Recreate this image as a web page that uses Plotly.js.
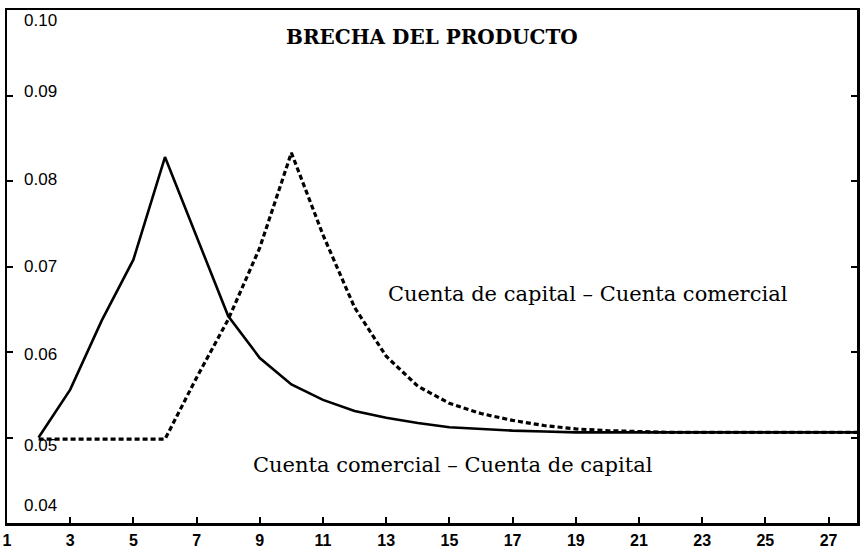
<!DOCTYPE html>
<html>
<head>
<meta charset="utf-8">
<script src="https://cdn.plot.ly/plotly-3.0.1.min.js"></script>
<style>html,body{margin:0;padding:0;background:#fff;}#chart{width:863px;height:550px;}</style>
</head>
<body>
<div id="chart"></div>
<script>
// Periods
const periods = [2,3,4,5,6,7,8,9,10,11,12,13,14,15,16,17,18,19,20,21,22,23,24,25,26,27,28];
// Solid line: Cuenta comercial – Cuenta de capital
const comercialCapital = [0.0500,0.0556,0.0637,0.0708,0.0828,0.0735,0.0642,0.0593,0.0562,0.0544,0.0531,0.0523,0.0517,0.0512,0.0510,0.0508,0.0507,0.0506,0.0506,0.0506,0.0506,0.0506,0.0506,0.0506,0.0506,0.0506,0.0506];
// Dashed line: Cuenta de capital – Cuenta comercial
const capitalComercial = [0.0498,0.0498,0.0498,0.0498,0.0498,0.0570,0.0638,0.0722,0.0833,0.0737,0.0652,0.0595,0.0560,0.0540,0.0528,0.0520,0.0514,0.0510,0.0508,0.0507,0.0506,0.0506,0.0506,0.0506,0.0506,0.0506,0.0506];
// Axis ticks
const xTickVals = [1,3,5,7,9,11,13,15,17,19,21,23,25,27];
const xTickText = ["1","3","5","7","9","11","13","15","17","19","21","23","25","27"];
const yTickVals = [0.04,0.05,0.06,0.07,0.08,0.09,0.10];
const yTickText = ["0.04","0.05","0.06","0.07","0.08","0.09","0.10"];
const titleText = "BRECHA DEL PRODUCTO";
const labelUpper = "Cuenta de capital – Cuenta comercial";
const labelLower = "Cuenta comercial – Cuenta de capital";

const yLabelShift = {"0.10":-10,"0.09":4,"0.08":2,"0.07":0,"0.06":-2,"0.05":-8,"0.04":18};

const traces = [
  {x: periods, y: comercialCapital, type:'scatter', mode:'lines',
   line:{color:'#000', width:2.6}, hoverinfo:'skip'},
  {x: periods, y: capitalComercial, type:'scatter', mode:'lines',
   line:{color:'#000', width:3.2, dash:'5px,3px'}, hoverinfo:'skip'}
];

const annotations = yTickVals.map((v,i)=>({
  x:0, xref:'paper', y:v, yref:'y', text:yTickText[i], showarrow:false,
  xanchor:'left', yanchor:'middle', xshift:15, yshift:yLabelShift[yTickText[i]],
  font:{family:'Liberation Sans, Arial, sans-serif', size:17, color:'#000'}
}));
annotations.push({x:0.5, xref:'paper', y:0.0968, yref:'y', text:'<b>'+titleText+'</b>', showarrow:false,
  xanchor:'center', yanchor:'middle', font:{family:'DejaVu Serif, serif', size:20, color:'#000'}});
annotations.push({x:19.4, xref:'x', y:0.0668, yref:'y', text:labelUpper, showarrow:false,
  xanchor:'center', yanchor:'middle', font:{family:'DejaVu Serif, serif', size:21, color:'#000'}});
annotations.push({x:15.1, xref:'x', y:0.0468, yref:'y', text:labelLower, showarrow:false,
  xanchor:'center', yanchor:'middle', font:{family:'DejaVu Serif, serif', size:21, color:'#000'}});

const layout = {
  width:863, height:550,
  margin:{l:7, r:6, t:10, b:27},
  paper_bgcolor:'#fff', plot_bgcolor:'#fff',
  showlegend:false,
  xaxis:{range:[1,27.9], tickvals:xTickVals, ticktext:xTickText, ticks:'inside', ticklen:6,
    tickwidth:2, tickcolor:'#000', showgrid:false, zeroline:false, showline:true, linewidth:2.5,
    linecolor:'#000', mirror:true, ticklabelstandoff:1,
    tickfont:{family:'Liberation Sans, Arial, sans-serif', size:16, color:'#000', weight:'bold'}},
  yaxis:{range:[0.04,0.10], tickvals:yTickVals, ticks:'inside', ticklen:6, tickwidth:2,
    tickcolor:'#000', showticklabels:false, showgrid:false, zeroline:false, showline:true,
    linewidth:2.5, linecolor:'#000', mirror:'ticks'},
  annotations:annotations
};

Plotly.newPlot('chart', traces, layout, {staticPlot:true, displayModeBar:false});
</script>
</body>
</html>
